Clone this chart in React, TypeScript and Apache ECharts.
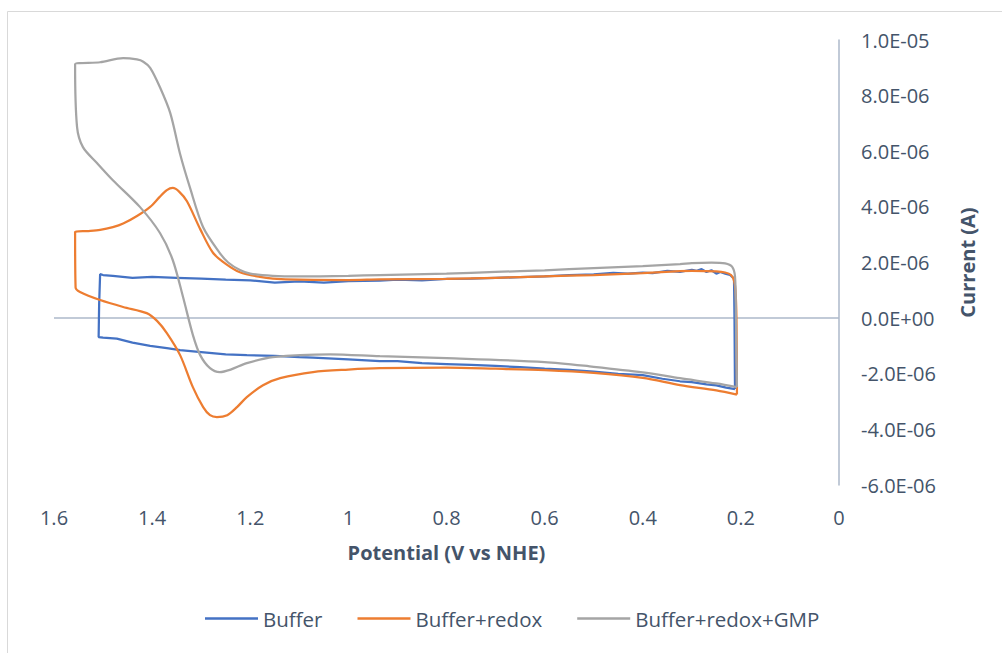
import React, { useEffect, useRef } from "react";
import * as echarts from "echarts";

// Potential (V vs NHE), current (µA) pairs, in scan order
const bufferData: [number, number][] = [
  [0.212, -2.55], [0.213, 0.0], [0.214, 1.42], [0.222, 1.55], [0.232, 1.6], [0.242, 1.66],
  [0.25, 1.6], [0.26, 1.72], [0.27, 1.66], [0.28, 1.76], [0.29, 1.7], [0.3, 1.74],
  [0.324, 1.66], [0.35, 1.7], [0.38, 1.62], [0.4, 1.64], [0.43, 1.6], [0.46, 1.63],
  [0.5, 1.57], [0.55, 1.55], [0.6, 1.5], [0.65, 1.47], [0.7, 1.45], [0.75, 1.42],
  [0.8, 1.41], [0.85, 1.36], [0.9, 1.38], [0.936, 1.35], [1.0, 1.33], [1.05, 1.28],
  [1.1, 1.32], [1.15, 1.28], [1.2, 1.36], [1.25, 1.38], [1.3, 1.42], [1.35, 1.45],
  [1.4, 1.48], [1.44, 1.45], [1.48, 1.52], [1.5, 1.55], [1.506, 1.58], [1.508, 0.5],
  [1.509, -0.68], [1.5, -0.7], [1.472, -0.74], [1.44, -0.88], [1.404, -1.0],
  [1.37, -1.08], [1.343, -1.15], [1.3, -1.22], [1.25, -1.3], [1.207, -1.33],
  [1.15, -1.36], [1.1, -1.4], [1.072, -1.42], [1.0, -1.48], [0.936, -1.55],
  [0.9, -1.55], [0.85, -1.62], [0.8, -1.65], [0.75, -1.68], [0.7, -1.72], [0.65, -1.76],
  [0.6, -1.82], [0.55, -1.86], [0.5, -1.92], [0.45, -2.0], [0.4, -2.05], [0.36, -2.18],
  [0.324, -2.27], [0.3, -2.3], [0.27, -2.38], [0.25, -2.42], [0.23, -2.5], [0.212, -2.55],
];

const redoxData: [number, number][] = [
  [0.208, -2.75], [0.209, 0.0], [0.211, 1.0], [0.214, 1.35], [0.22, 1.55], [0.232, 1.64],
  [0.25, 1.68], [0.3, 1.7], [0.324, 1.69], [0.4, 1.62], [0.5, 1.55], [0.6, 1.5],
  [0.7, 1.45], [0.8, 1.41], [0.936, 1.39], [1.0, 1.37], [1.1, 1.38], [1.154, 1.42],
  [1.18, 1.48], [1.221, 1.65], [1.25, 1.95], [1.276, 2.35], [1.302, 3.2], [1.329, 4.2],
  [1.345, 4.55], [1.358, 4.68], [1.37, 4.6], [1.385, 4.35], [1.404, 4.0], [1.43, 3.68],
  [1.459, 3.4], [1.48, 3.27], [1.506, 3.17], [1.53, 3.13], [1.557, 3.1], [1.556, 1.1],
  [1.547, 0.94], [1.506, 0.65], [1.459, 0.4], [1.411, 0.18], [1.39, -0.1], [1.37, -0.54],
  [1.343, -1.33], [1.317, -2.48], [1.296, -3.2], [1.282, -3.49], [1.268, -3.56],
  [1.247, -3.49], [1.227, -3.2], [1.207, -2.84], [1.174, -2.41], [1.139, -2.16],
  [1.072, -1.94], [1.0, -1.85], [0.936, -1.8], [0.8, -1.78], [0.7, -1.82], [0.6, -1.87],
  [0.5, -1.97], [0.4, -2.15], [0.324, -2.41], [0.25, -2.6], [0.208, -2.75],
];

const gmpData: [number, number][] = [
  [0.208, -2.48], [0.21, 0.0], [0.212, 1.5], [0.218, 1.85], [0.232, 1.97], [0.26, 2.0],
  [0.3, 1.98], [0.324, 1.94], [0.4, 1.87], [0.5, 1.8], [0.6, 1.72], [0.7, 1.66],
  [0.8, 1.6], [0.936, 1.55], [1.0, 1.52], [1.1, 1.5], [1.154, 1.52], [1.2, 1.6],
  [1.221, 1.73], [1.245, 2.0], [1.262, 2.34], [1.296, 3.27], [1.323, 4.7], [1.343, 5.9],
  [1.363, 7.37], [1.384, 8.3], [1.404, 9.0], [1.418, 9.22], [1.431, 9.3], [1.459, 9.35],
  [1.506, 9.2], [1.557, 9.13], [1.553, 6.87], [1.541, 6.15], [1.512, 5.57], [1.48, 4.96],
  [1.425, 4.0], [1.384, 3.06], [1.358, 2.09], [1.337, 0.76], [1.317, -0.6], [1.302, -1.33],
  [1.282, -1.8], [1.262, -1.94], [1.24, -1.85], [1.207, -1.62], [1.154, -1.4],
  [1.037, -1.3], [0.936, -1.37], [0.8, -1.44], [0.6, -1.58], [0.5, -1.75], [0.4, -1.95],
  [0.324, -2.16], [0.25, -2.35], [0.208, -2.48],
];

const seriesNames = ["Buffer", "Buffer+redox", "Buffer+redox+GMP"];
const seriesColors = ["#4472c4", "#ed7d31", "#a5a5a5"];

const toAmps = (d: [number, number][]) => d.map(([v, i]) => [v, i * 1e-6]);

function fmtExp(v: number): string {
  if (Math.abs(v) < 1e-12) return "0.0E+00";
  const [m, e] = v.toExponential(1).split("e");
  const n = parseInt(e, 10);
  return m + "E" + (n < 0 ? "-" : "+") + String(Math.abs(n)).padStart(2, "0");
}

const FONT = "'Open Sans', sans-serif";
const TXT = "#44546a";
const AXIS = "#adb9ca";

export default function App() {
  const ref = useRef<HTMLDivElement>(null);
  useEffect(() => {
    if (!ref.current) return;
    const chart = echarts.init(ref.current, undefined, { renderer: "svg" });
    const datasets = [bufferData, redoxData, gmpData];
    chart.setOption({
      animation: false,
      backgroundColor: "#ffffff",
      textStyle: { fontFamily: FONT },
      graphic: [
        {
          type: "rect",
          shape: { x: 7.5, y: 11.5, width: 1200, height: 800 },
          style: { fill: "none", stroke: "#d9d9d9", lineWidth: 1 },
          silent: true,
        },
      ],
      grid: { left: 54, right: 163, top: 40, bottom: 168 },
      legend: {
        left: 205,
        top: 608,
        padding: 0,
        icon: "rect",
        itemWidth: 53,
        itemHeight: 2.5,
        itemGap: 35,
        textStyle: { color: TXT, fontSize: 20.5, fontFamily: FONT },
        data: seriesNames,
      },
      xAxis: {
        type: "value",
        inverse: true,
        min: 0,
        max: 1.6,
        interval: 0.2,
        name: "Potential (V vs NHE)",
        nameLocation: "middle",
        nameGap: 57,
        nameTextStyle: { color: TXT, fontSize: 20, fontWeight: "bold", fontFamily: FONT },
        axisLine: { show: false, onZero: false },
        axisTick: { show: false },
        splitLine: { show: false },
        axisLabel: {
          color: TXT,
          fontSize: 20,
          margin: 22,
          fontFamily: FONT,
          formatter: (v: number) => String(parseFloat(v.toFixed(1))),
        },
      },
      yAxis: {
        type: "value",
        position: "right",
        min: -6e-6,
        max: 1e-5,
        interval: 2e-6,
        name: "Current (A)",
        nameLocation: "middle",
        nameRotate: 90,
        nameGap: 118,
        nameTextStyle: { color: TXT, fontSize: 20, fontWeight: "bold", fontFamily: FONT },
        axisLine: { show: true, onZero: false, lineStyle: { color: AXIS, width: 1.5 } },
        axisTick: { show: false },
        splitLine: { show: false },
        axisLabel: {
          color: TXT,
          fontSize: 20,
          margin: 22,
          align: "left",
          fontFamily: FONT,
          formatter: (v: number) => fmtExp(v),
        },
      },
      series: datasets.map((d, idx) => ({
        name: seriesNames[idx],
        type: "line",
        data: toAmps(d),
        symbol: "none",
        smooth: idx === 0 ? false : 0.3,
        color: seriesColors[idx],
        lineStyle: { color: seriesColors[idx], width: 2.25 },
        z: 3 + idx,
        ...(idx === 0
          ? {
              markLine: {
                silent: true,
                symbol: ["none", "none"],
                label: { show: false },
                lineStyle: { color: AXIS, width: 1.5, type: "solid" },
                z: 1,
                data: [{ yAxis: 0 }],
              },
            }
          : {}),
      })),
    });
    return () => chart.dispose();
  }, []);
  return (
    <div
      ref={ref}
      style={{ position: "absolute", left: 0, top: 0, width: 1002, height: 653 }}
    />
  );
}
